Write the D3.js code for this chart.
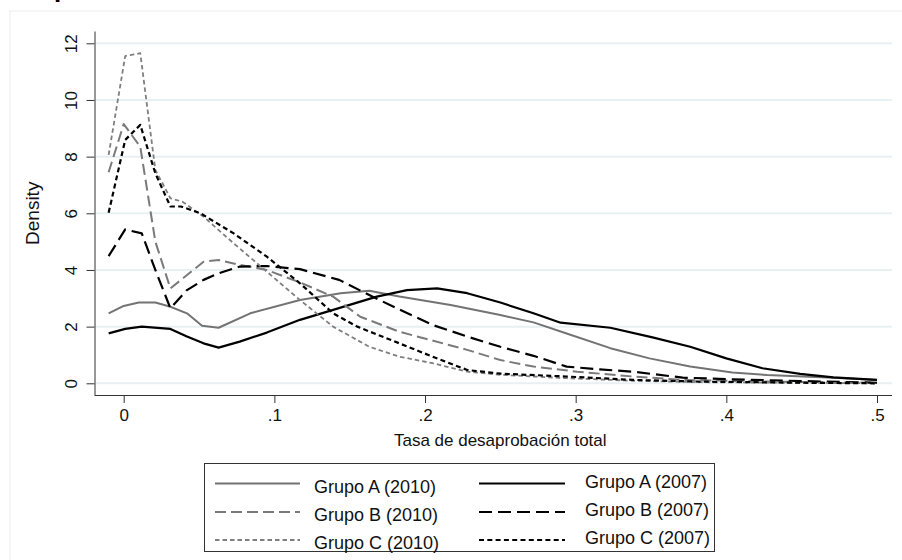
<!DOCTYPE html>
<html>
<head>
<meta charset="utf-8">
<script src="https://cdn.jsdelivr.net/npm/d3@7"></script>
<style>
  html, body { margin: 0; padding: 0; background: #fff; }
  svg { display: block; font-family: "Liberation Sans", Arial, sans-serif; }
</style>
</head>
<body>
<svg id="chart" width="902" height="560"></svg>
<script>
// kernel density estimates (x = tasa, y = density)
const grupoA2010X = [-0.010, 0.000, 0.010, 0.021, 0.031, 0.042, 0.052, 0.063, 0.084, 0.117, 0.144, 0.163, 0.183, 0.217, 0.250, 0.272, 0.294, 0.323, 0.349, 0.376, 0.404, 0.427, 0.471, 0.500];
const grupoA2010Y = [2.47, 2.73, 2.85, 2.85, 2.70, 2.47, 2.03, 1.96, 2.47, 2.94, 3.18, 3.27, 3.06, 2.76, 2.41, 2.15, 1.76, 1.24, 0.88, 0.59, 0.38, 0.29, 0.20, 0.12];

const grupoA2007X = [-0.010, 0.001, 0.012, 0.031, 0.042, 0.053, 0.063, 0.077, 0.095, 0.117, 0.139, 0.168, 0.188, 0.208, 0.228, 0.250, 0.272, 0.290, 0.323, 0.351, 0.376, 0.400, 0.424, 0.449, 0.471, 0.500];
const grupoA2007Y = [1.76, 1.92, 2.00, 1.92, 1.65, 1.41, 1.26, 1.47, 1.79, 2.24, 2.59, 3.06, 3.29, 3.35, 3.18, 2.85, 2.47, 2.14, 1.96, 1.62, 1.29, 0.88, 0.53, 0.33, 0.21, 0.12];

const grupoB2010X = [-0.010, 0.000, 0.011, 0.021, 0.031, 0.042, 0.053, 0.063, 0.077, 0.095, 0.117, 0.139, 0.157, 0.183, 0.228, 0.250, 0.272, 0.301, 0.338, 0.371, 0.427, 0.500];
const grupoB2010Y = [7.45, 9.15, 8.35, 5.00, 3.35, 3.82, 4.29, 4.35, 4.18, 4.00, 3.56, 3.06, 2.35, 1.82, 1.18, 0.82, 0.59, 0.41, 0.24, 0.12, 0.06, 0.02];

const grupoB2007X = [-0.010, 0.001, 0.012, 0.021, 0.031, 0.042, 0.053, 0.063, 0.077, 0.095, 0.117, 0.143, 0.165, 0.188, 0.205, 0.228, 0.250, 0.272, 0.294, 0.316, 0.338, 0.371, 0.404, 0.449, 0.500];
const grupoB2007Y = [4.49, 5.43, 5.29, 4.00, 2.65, 3.29, 3.65, 3.88, 4.12, 4.14, 4.03, 3.65, 3.06, 2.48, 2.06, 1.65, 1.29, 0.97, 0.59, 0.49, 0.41, 0.20, 0.14, 0.08, 0.02];

const grupoC2010X = [-0.010, 0.001, 0.011, 0.021, 0.031, 0.039, 0.053, 0.073, 0.095, 0.117, 0.139, 0.163, 0.183, 0.205, 0.228, 0.250, 0.272, 0.294, 0.338, 0.382, 0.500];
const grupoC2010Y = [8.06, 11.55, 11.65, 7.53, 6.53, 6.41, 5.88, 4.94, 3.94, 2.94, 2.00, 1.29, 0.94, 0.71, 0.41, 0.30, 0.24, 0.18, 0.09, 0.04, 0.00];

const grupoC2007X = [-0.010, 0.001, 0.011, 0.021, 0.031, 0.038, 0.051, 0.073, 0.095, 0.117, 0.139, 0.155, 0.183, 0.205, 0.228, 0.250, 0.294, 0.338, 0.382, 0.449, 0.500];
const grupoC2007Y = [6.02, 8.59, 9.12, 7.41, 6.24, 6.24, 6.00, 5.29, 4.47, 3.53, 2.47, 2.00, 1.41, 0.94, 0.47, 0.34, 0.24, 0.12, 0.06, 0.02, 0.00];

const xTicks = [0, 0.1, 0.2, 0.3, 0.4, 0.5];
const xTickLabels = ["0", ".1", ".2", ".3", ".4", ".5"];
const yTicks = [0, 2, 4, 6, 8, 10, 12];

const series = [
  { name: "Grupo A (2010)", xs: grupoA2010X, ys: grupoA2010Y, color: "#737373", width: 2, dash: null },
  { name: "Grupo A (2007)", xs: grupoA2007X, ys: grupoA2007Y, color: "#000", width: 2.2, dash: null },
  { name: "Grupo B (2010)", xs: grupoB2010X, ys: grupoB2010Y, color: "#7a7a7a", width: 2, dash: "11,5" },
  { name: "Grupo B (2007)", xs: grupoB2007X, ys: grupoB2007Y, color: "#000", width: 2.2, dash: "13,6" },
  { name: "Grupo C (2010)", xs: grupoC2010X, ys: grupoC2010Y, color: "#7f7f7f", width: 1.8, dash: "4.5,3" },
  { name: "Grupo C (2007)", xs: grupoC2007X, ys: grupoC2007Y, color: "#000", width: 2.2, dash: "5,3.3" },
];

const svg = d3.select("#chart");

const plot = { left: 94.5, right: 892, top: 31.5, bottom: 395 };
const x = d3.scaleLinear().domain([0, 0.5]).range([123.7, 877]);
const y = d3.scaleLinear().domain([0, 12]).range([383.3, 43.3]);

// outer (very light) frame of the graph region
svg.append("line").attr("x1", 9).attr("x2", 902).attr("y1", 11).attr("y2", 11)
  .attr("stroke", "#ececec").attr("stroke-width", 1);
svg.append("line").attr("x1", 10).attr("x2", 10).attr("y1", 11).attr("y2", 560)
  .attr("stroke", "#ececec").attr("stroke-width", 1);

// clipped title (only the descender shows)
svg.append("text")
  .attr("x", 54).attr("y", -3)
  .attr("font-size", 26).attr("font-weight", 700)
  .text("p");

// grid
svg.append("g")
  .selectAll("line")
  .data(yTicks)
  .join("line")
  .attr("x1", plot.left + 1).attr("x2", plot.right)
  .attr("y1", (d) => y(d)).attr("y2", (d) => y(d))
  .attr("stroke", "#e8f0f2").attr("stroke-width", 2);

// axes
const xAxis = svg.append("g")
  .attr("transform", `translate(0,${plot.bottom})`)
  .call(d3.axisBottom(x).tickValues(xTicks).tickFormat((d, i) => xTickLabels[i]).tickSize(8).tickPadding(6).tickSizeOuter(0));
xAxis.select(".domain").attr("d", `M${plot.left},0.5H${plot.right}`).attr("stroke", "#333");
xAxis.selectAll(".tick line").attr("stroke", "#333");
xAxis.selectAll(".tick text")
  .attr("font-family", "'Liberation Sans', Arial, sans-serif")
  .attr("font-size", 17).attr("fill", "#111");

const yAxis = svg.append("g")
  .attr("transform", `translate(${plot.left},0)`)
  .call(d3.axisLeft(y).tickValues(yTicks).tickSize(8).tickSizeOuter(0));
yAxis.select(".domain").attr("d", `M0.5,${plot.top}V${plot.bottom}`).attr("stroke", "#333");
yAxis.selectAll(".tick line").attr("stroke", "#333");
yAxis.selectAll(".tick text")
  .attr("font-family", "'Liberation Sans', Arial, sans-serif")
  .attr("font-size", 17).attr("fill", "#111")
  .attr("transform", "rotate(-90)")
  .attr("x", 0).attr("y", -17.5).attr("dy", 0)
  .attr("text-anchor", "middle");

// axis titles
svg.append("text")
  .attr("x", (plot.left + plot.right) / 2 + 7).attr("y", 446)
  .attr("text-anchor", "middle").attr("font-size", 17).attr("fill", "#111")
  .text("Tasa de desaprobación total");
svg.append("text")
  .attr("transform", `translate(39,${(y(0) + y(12)) / 2}) rotate(-90)`)
  .attr("text-anchor", "middle").attr("font-size", 19).attr("fill", "#111")
  .text("Density");

// density curves
const line = d3.line().x((d) => x(d[0])).y((d) => y(d[1]));
svg.append("g")
  .selectAll("path")
  .data(series)
  .join("path")
  .attr("d", (s) => line(s.xs.map((v, i) => [v, s.ys[i]])))
  .attr("fill", "none")
  .attr("stroke", (s) => s.color)
  .attr("stroke-width", (s) => s.width)
  .attr("stroke-dasharray", (s) => s.dash)
  .attr("stroke-linejoin", "round");

// legend
const legend = svg.append("g");
legend.append("rect")
  .attr("x", 204.5).attr("y", 463.5).attr("width", 510).attr("height", 88)
  .attr("fill", "#fff").attr("stroke", "#333").attr("stroke-width", 1);

const legendCols = [
  { x1: 215, x2: 300, tx: 314 },
  { x1: 479, x2: 565, tx: 585 },
];
const legendRows = [483.5, 512, 540];

const items = legend.selectAll("g.item")
  .data(series)
  .join("g")
  .attr("class", "item")
  .attr("transform", (d, i) => `translate(0,${legendRows[Math.floor(i / 2)]})`);
items.append("line")
  .attr("x1", (d, i) => legendCols[i % 2].x1)
  .attr("x2", (d, i) => legendCols[i % 2].x2)
  .attr("stroke", (d) => d.color)
  .attr("stroke-width", (d) => d.width)
  .attr("stroke-dasharray", (d) => d.dash);
items.append("text")
  .attr("x", (d, i) => legendCols[i % 2].tx)
  .attr("y", (d, i) => (i % 2 === 0 ? 3 : -2))
  .attr("dy", "0.35em")
  .attr("font-size", 18).attr("fill", "#111")
  .text((d) => d.name);
</script>
</body>
</html>
